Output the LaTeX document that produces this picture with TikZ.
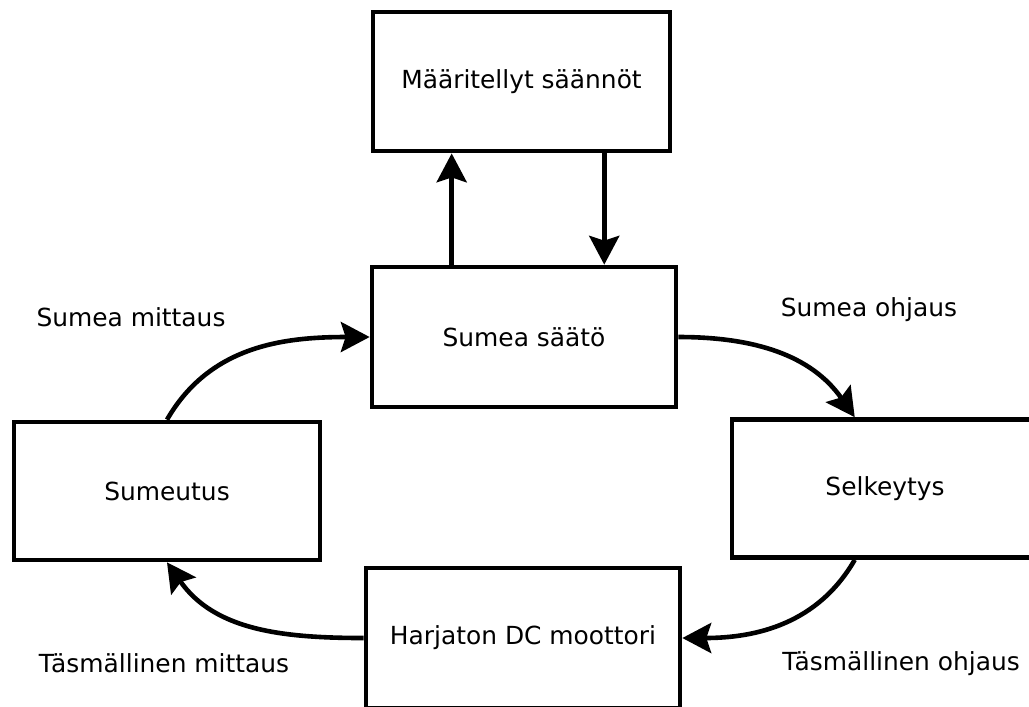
\documentclass[tikz,border=0pt]{standalone}
\usepackage{fontspec}
\setmainfont{DejaVu Sans}
\usetikzlibrary{arrows.meta}

\begin{document}
\begin{tikzpicture}[x=0.025cm,y=-0.025cm,line width=0.115cm,
  every node/.style={font=\fontsize{17.7}{21}\selectfont},
  box/.style={draw,minimum width=7.6cm,minimum height=3.5cm},
  >={Stealth[length=0.72cm,width=0.75cm,inset=0.12cm]}]
\useasboundingbox (0,0) rectangle (1029,706);
\node[box,minimum width=7.43cm,minimum height=3.48cm] (saan) at (521.5,81.5) {Määritellyt säännöt};
\node[box] (saato) at (524,337) {Sumea säätö};
\node[box,minimum width=7.65cm,minimum height=3.45cm] (sum) at (167,491) {Sumeutus};
\node[box,minimum width=7.65cm,minimum height=3.45cm] (selk) at (885,488.5) {Selkeytys};
\node[box,minimum width=7.85cm] (mot) at (523,638) {Harjaton DC moottori};
\node (l1) at (131,317) {Sumea mittaus};
\node (l2) at (869,310) {Sumea ohjaus};
\node (l3) at (164,663) {Täsmällinen mittaus};
\node (l4) at (901,664) {Täsmällinen ohjaus};
\draw[->] (saato.135) -- (saato.135 |- saan.south);
\draw[->] (saan.-41) -- (saan.-41 |- saato.north);
\draw[->] (sum.north) to[out=60,in=180] (saato.west);
\draw[->] (saato.east) to[out=0,in=125] (selk.113);
\draw[->] (selk.247) to[out=240,in=0] (mot.east);
\draw[->] (mot.west) to[out=180,in=-55] (sum.south);
\end{tikzpicture}
\end{document}
